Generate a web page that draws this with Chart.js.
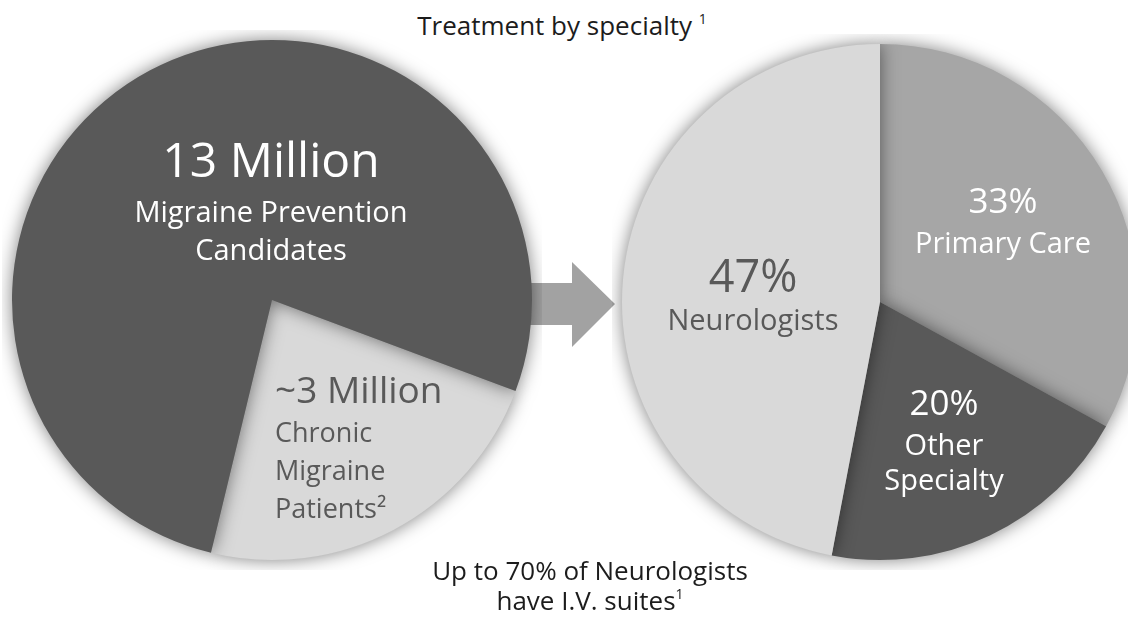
<!DOCTYPE html>
<html>
<head>
<meta charset="utf-8">
<script src="https://cdn.jsdelivr.net/npm/chart.js@4"></script>
<style>
  html, body { margin: 0; padding: 0; background: #fff; overflow: hidden; }
  body { width: 1128px; height: 617px; position: relative; font-family: "Open Sans", sans-serif; }
  .note { position: absolute; text-align: center; color: #1c1c1c; font-size: 26px; white-space: nowrap; }
  .note sup { font-size: 14px; vertical-align: 0; position: relative; top: -11px; }
  #arrow { position: absolute; left: 0; top: 0; }
  .pie { position: absolute; }
</style>
</head>
<body>

<div class="note" style="left:-2px; width:1128px; top:12px; line-height:26px;">Treatment by specialty <sup>1</sup></div>

<svg id="arrow" width="1128" height="617">
  <polygon points="530,283 572,283 572,262 615,304 572,347 572,325 530,325" fill="#a2a2a2"/>
</svg>

<div class="pie" style="left:2px; top:30px;"><canvas id="leftPie" width="540" height="540"></canvas></div>
<div class="pie" style="left:612px; top:34px;"><canvas id="rightPie" width="536" height="536"></canvas></div>

<div class="note" style="left:0; width:1180px; top:555px; line-height:30px;">Up to 70% of Neurologists<br>have I.V. suites<sup>1</sup></div>

<script>
// left pie: patients (millions)
const leftLabels = ['Chronic Migraine Patients', 'Migraine Prevention Candidates'];
const leftValues = [3, 10];
const leftValueText = ['~3 Million', '13 Million'];
const leftLines = [['Chronic', 'Migraine', 'Patients\u00B2'], ['Migraine Prevention', 'Candidates']];

// right pie: treatment by specialty (%)
const rightLabels = ['Primary Care', 'Other Specialty', 'Neurologists'];
const rightValues = [33, 20, 47];
const rightLines = [['Primary Care'], ['Other', 'Specialty'], ['Neurologists']];

// label placement relative to pie centre
const leftLayout = [
    { dx: 3, dy: 103, align: 'left', big: 37, small: 27, first: 39, step: 38, color: '#595959' },
    { dx: -1, dy: -123, align: 'center', big: 48, small: 29, first: 45, step: 38, color: '#ffffff' }
];
const rightLayout = [
    { dx: 123, dy: -89, align: 'center', big: 35, small: 29, first: 40, step: 38, color: '#ffffff' },
    { dx: 64, dy: 113, align: 'center', big: 35, small: 29, first: 40, step: 35, color: '#ffffff' },
    { dx: -127, dy: -10, align: 'center', big: 45, small: 29, first: 38, step: 38, color: '#595959' }
];

const pieShadow = {
    id: 'pieShadow',
    beforeDatasetsDraw(chart) {
        const ctx = chart.ctx;
        ctx.save();
        ctx.shadowColor = 'rgba(0,0,0,0.5)';
        ctx.shadowBlur = 18;
    },
    afterDatasetsDraw(chart) {
        chart.ctx.restore();
    }
};

const sliceText = {
    id: 'sliceText',
    afterDraw(chart, args, opts) {
        const ctx = chart.ctx;
        const arcs = chart.getDatasetMeta(0).data;
        const cx = arcs[0].x, cy = arcs[0].y;
        ctx.save();
        ctx.textBaseline = 'alphabetic';
        opts.layout.forEach((p, i) => {
            ctx.fillStyle = p.color;
            ctx.textAlign = p.align;
            let y = cy + p.dy;
            ctx.font = p.big + 'px "Open Sans"';
            ctx.fillText(opts.values[i], cx + p.dx, y);
            y += p.first;
            ctx.font = p.small + 'px "Open Sans"';
            opts.lines[i].forEach((t, j) => {
                ctx.fillText(t, cx + p.dx, y + j * p.step);
            });
        });
        ctx.restore();
    }
};

function makePie(id, labels, values, colors, rotation, textOpts) {
    new Chart(document.getElementById(id), {
        type: 'pie',
        data: {
            labels: labels,
            datasets: [{
                data: values,
                backgroundColor: colors,
                borderWidth: 0,
                hoverOffset: 0,
                offset: 0
            }]
        },
        options: {
            responsive: false,
            animation: false,
            events: [],
            rotation: rotation,
            layout: { padding: 10 },
            plugins: {
                legend: { display: false },
                tooltip: { enabled: false },
                sliceText: textOpts
            }
        },
        plugins: [pieShadow, sliceText]
    });
}

makePie('leftPie', leftLabels, leftValues, ['#d9d9d9', '#595959'], 110.5,
    { values: leftValueText, lines: leftLines, layout: leftLayout });

makePie('rightPie', rightLabels, rightValues, ['#a6a6a6', '#595959', '#d9d9d9'], 0,
    { values: rightValues.map(v => v + '%'), lines: rightLines, layout: rightLayout });
</script>
</body>
</html>
